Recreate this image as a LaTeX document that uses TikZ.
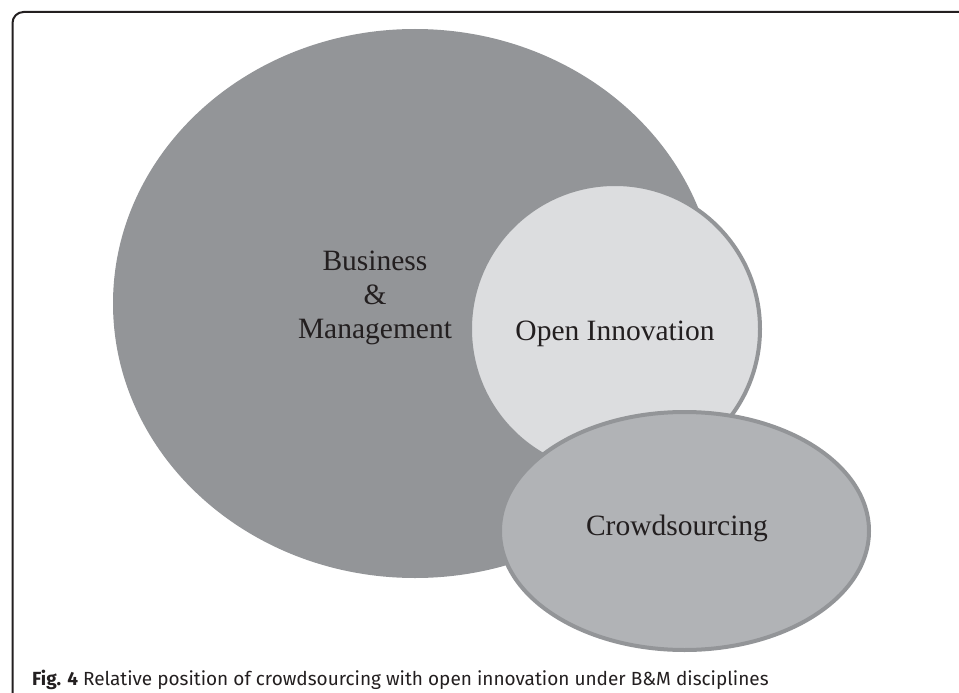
\documentclass[tikz,border=0pt]{standalone}
\usepackage{fontspec}
\setmainfont{Liberation Serif}
\newfontfamily\captionfont{Fira Sans}
\usepackage{tikz}
\usetikzlibrary{shapes.geometric}

\definecolor{inkblack}{HTML}{231F20}
\definecolor{bmgrey}{HTML}{939598}
\definecolor{oigrey}{HTML}{DCDDDF}
\definecolor{csgrey}{HTML}{B1B3B6}

\tikzset{
  blob/.style={inner sep=0pt, line width=4pt, draw=bmgrey},
  label/.style={inner sep=0pt, text=inkblack, font=\fontsize{29.5}{34}\selectfont}
}

\begin{document}
\begin{tikzpicture}[x=1pt,y=-1pt]

\useasboundingbox (0,0) rectangle (959,693);
\clip (0,0) rectangle (959,693);

% frame, runs off the page at right and bottom
\draw[line width=2pt, inkblack, rounded corners=11pt] (12.5,720) -- (12.5,12) -- (990,12);

% the three areas
\node[ellipse, inner sep=0pt, fill=bmgrey, minimum width=604pt, minimum height=549pt] (bm) at (415,303.5) {};
\node[circle, blob, fill=oigrey, minimum size=290pt] (oi) at (615,329) {};
\node[ellipse, blob, fill=csgrey, minimum width=369pt, minimum height=238pt] (cs) at (684.5,531) {};

\node[label, align=center] (bmtext) at (375,298) {Business\\\&\\Management};
\node[label, anchor=base] (oitext) at (615,340) {Open Innovation};
\node[label, anchor=base] (cstext) at (677,535) {Crowdsourcing};

% caption
\node[anchor=base west, inner sep=0pt, text=inkblack, font=\captionfont\fontsize{19}{22}\selectfont] (caption) at (32,685)
  {\textbf{Fig. 4} Relative position of crowdsourcing with open innovation under B\&M disciplines};

\end{tikzpicture}
\end{document}
